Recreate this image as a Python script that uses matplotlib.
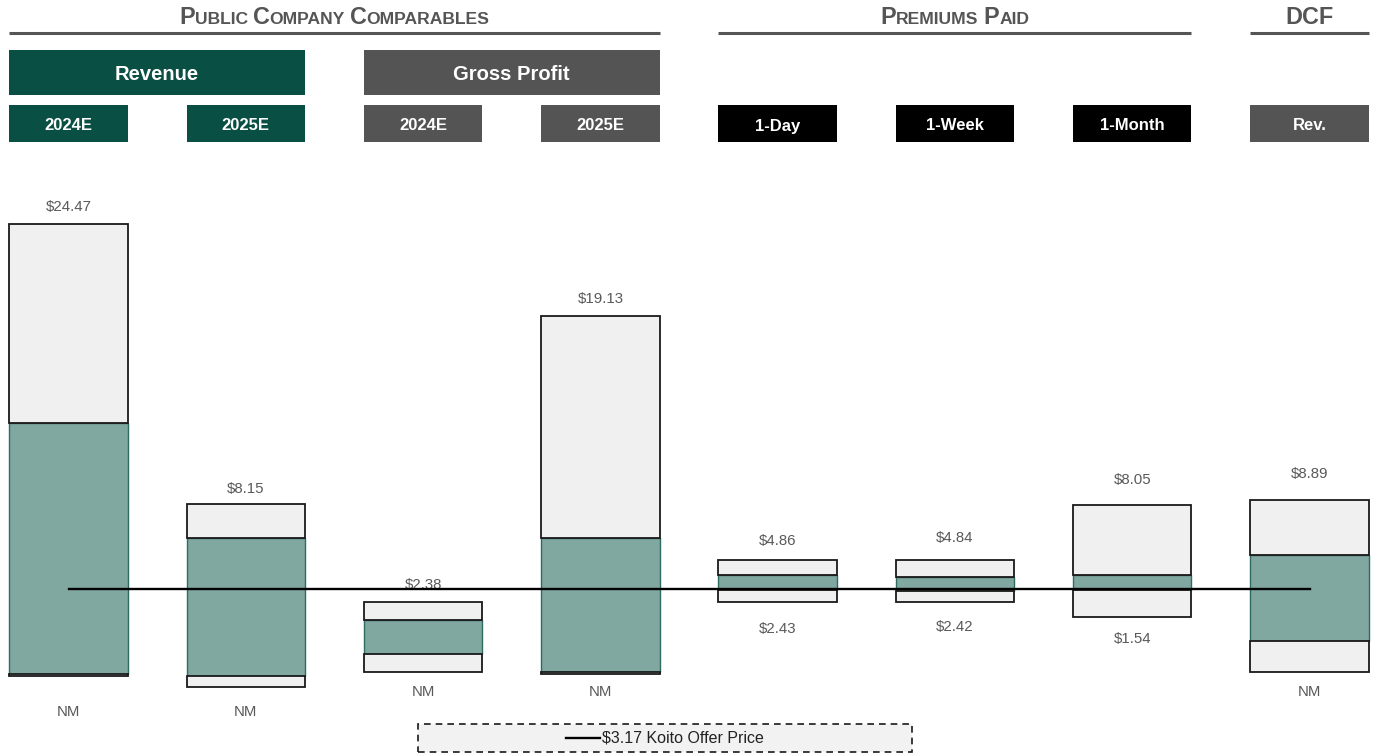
import matplotlib
matplotlib.use('Agg')
import matplotlib.pyplot as plt
from matplotlib.patches import Rectangle
from matplotlib.lines import Line2D
import matplotlib.transforms as mtransforms

# ---------------- data ----------------
columns = ['2024E', '2025E', '2024E', '2025E', '1-Day', '1-Week', '1-Month', 'Rev.']
low = [-1.91, -2.56, -1.68, -1.80, 2.43, 2.42, 1.54, -1.68]
q1 = [-1.81, -1.91, -0.63, -1.70, 3.11, 3.07, 3.08, 0.13]
q3 = [12.83, 6.14, 1.35, 6.14, 3.98, 3.86, 3.98, 5.12]
high = [24.47, 8.15, 2.38, 19.13, 4.86, 4.84, 8.05, 8.37]
high_labels = ['$24.47', '$8.15', '$2.38', '$19.13', '$4.86', '$4.84', '$8.05', '$8.89']
low_labels = ['NM', 'NM', 'NM', 'NM', '$2.43', '$2.42', '$1.54', 'NM']
offer_price = 3.17
offer_label = '$3.17 Koito Offer Price'

sections = ['Public Company Comparables', 'Premiums Paid', 'DCF']
section_spans = [(0, 3), (4, 6), (7, 7)]
groups = ['Revenue', 'Gross Profit']
group_spans = [(0, 1), (2, 3)]

# ---------------- style / layout ----------------
GREEN = '#0A4F43'
GRAY = '#545454'
BLACK = '#000000'
col_colors = [GREEN, GREEN, GRAY, GRAY, BLACK, BLACK, BLACK, GRAY]
group_colors = [GREEN, GRAY]
TEAL = '#81A7A1'
TEAL_EDGE = '#2F6B61'
LIGHT = '#F0F0F0'
LABEL_C = '#595959'
TITLE_C = '#555555'
FONT = 'Liberation Sans'

top_off = [12.2, 10.5, 12.2, 11.9, 13.7, 15.8, 18.0, 18.7]
low_off = [26.0, 18.0, 14.4, 13.0, 20.0, 18.0, 15.8, 14.4]

W, H = 1373, 756
fig = plt.figure(figsize=(W / 100, H / 100), dpi=100)
ax = fig.add_axes([0, 0, 1, 1])
ax.axis('off')
spacing = 177.29
x0px = 68.5
ax.set_xlim(-x0px / spacing, (W - x0px) / spacing)
zero_px, ppu = 643.2, 17.13
ax.set_ylim((zero_px - H) / ppu, zero_px / ppu)

bw = 0.668
xs = list(range(len(columns)))

for i in xs:
    ax.add_patch(Rectangle((i - bw / 2, q1[i]), bw, q3[i] - q1[i], facecolor=TEAL,
                           edgecolor=TEAL_EDGE, lw=1.0, zorder=2))
    ax.add_patch(Rectangle((i - bw / 2, q3[i]), bw, high[i] - q3[i], facecolor=LIGHT,
                           edgecolor='#1a1a1a', lw=1.3, zorder=3))
    ax.add_patch(Rectangle((i - bw / 2, low[i]), bw, q1[i] - low[i], facecolor=LIGHT,
                           edgecolor='#1a1a1a', lw=1.3, zorder=3))
    ax.annotate(high_labels[i], (i, high[i]), xytext=(0, top_off[i]), textcoords='offset points',
                ha='center', va='center', fontsize=10.8, color=LABEL_C, family=FONT, zorder=4)
    ax.annotate(low_labels[i], (i, low[i]), xytext=(0, -low_off[i]), textcoords='offset points',
                ha='center', va='center', fontsize=10.8, color=LABEL_C, family=FONT, zorder=4)

ax.plot([xs[0], xs[-1]], [offer_price, offer_price], color='black', lw=1.7, zorder=6)

# ---------------- headers ----------------
bt = mtransforms.blended_transform_factory(ax.transData, ax.transAxes)


def fy(py):
    return 1 - py / H


half = bw / 2
renderer = fig.canvas.get_renderer()


def text_width(s, fs):
    t = fig.text(0, 0, s, fontsize=fs, fontweight='bold', family=FONT)
    w = t.get_window_extent(renderer).width
    t.remove()
    return w


def small_caps(s, xc_data, base_py, big=16.8, small=12.6):
    pieces = []
    words = s.split()
    for k, wd in enumerate(words):
        if k > 0:
            pieces.append((' ', small))
        pieces.append((wd[0].upper(), big))
        if len(wd) > 1:
            pieces.append((wd[1:].upper(), small))
    sp = text_width('X X', small) - text_width('XX', small)
    widths = [sp if p == ' ' else text_width(p, fs) for p, fs in pieces]
    total = sum(widths)
    xc_px = ax.transData.transform((xc_data, 0))[0]
    x = xc_px - total / 2
    for (p, fs), w in zip(pieces, widths):
        if p != ' ':
            fig.text(x, H - base_py, p, fontsize=fs, fontweight='bold', family=FONT,
                     color=TITLE_C, transform=mtransforms.IdentityTransform(),
                     ha='left', va='baseline')
        x += w


for name, (a, b) in zip(sections, section_spans):
    ax.plot([a - half, b + half], [fy(33), fy(33)], transform=bt, color=TITLE_C, lw=2.2,
            solid_capstyle='butt', clip_on=False)
    if name == 'DCF':
        ax.text((a + b) / 2, fy(24.5), name, transform=bt, ha='center', va='baseline',
                fontsize=16.8, fontweight='bold', family=FONT, color=TITLE_C)
    else:
        small_caps(name, (a + b) / 2, 24.5)

for name, (a, b), c in zip(groups, group_spans, group_colors):
    ax.add_patch(Rectangle((a - half, fy(95)), (b - a) + bw, fy(50) - fy(95), transform=bt,
                           facecolor=c, edgecolor='none', clip_on=False))
    ax.text((a + b) / 2, fy(80), name, transform=bt, ha='center', va='baseline',
            fontsize=14.5, fontweight='bold', family=FONT, color='white')

for i in xs:
    ax.add_patch(Rectangle((i - half, fy(142)), bw, fy(105) - fy(142), transform=bt,
                           facecolor=col_colors[i], edgecolor='none', clip_on=False))
    ax.text(i, fy(130.5), columns[i], transform=bt, ha='center', va='baseline',
            fontsize=12, fontweight='bold', family=FONT, color='white')

# ---------------- legend ----------------
idt = mtransforms.IdentityTransform()
fig.add_artist(Rectangle((418, H - 752), 494, 28, transform=idt, facecolor='#F2F2F2',
                         edgecolor='#1a1a1a', lw=1.2, linestyle=(0, (4, 3))))
fig.add_artist(Line2D([566, 600], [H - 738, H - 738], transform=idt, color='black', lw=1.7))
fig.text(602, H - 738, offer_label, transform=idt, ha='left', va='center', fontsize=11.5,
         family=FONT, color='#222222')

fig.savefig('out.png', dpi=100)
